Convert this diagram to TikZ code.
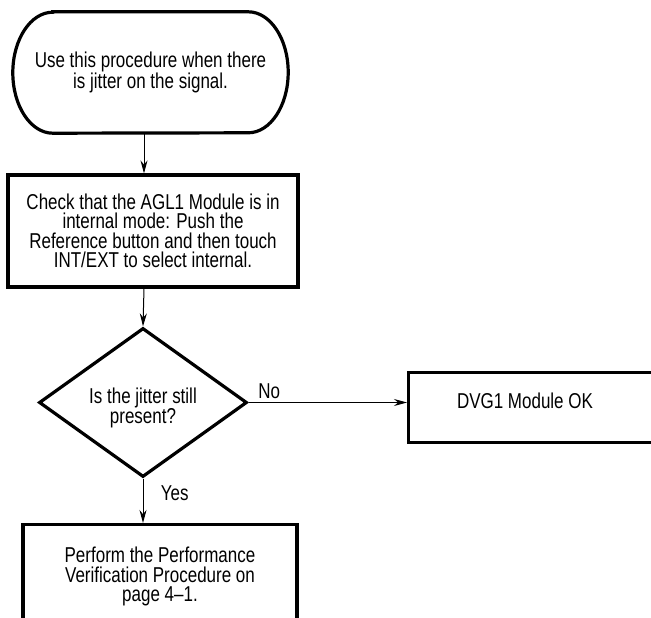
\documentclass[tikz,border=0pt]{standalone}
\usepackage{fontspec}
\setmainfont{Liberation Sans}[FakeStretch=0.79]
\usetikzlibrary{shapes.geometric,arrows.meta}

\begin{document}
\begin{tikzpicture}[x=1pt,y=-1pt,
	every node/.style={font=\fontsize{21.5}{19.5}\selectfont, align=center},
	box/.style={draw, line width=3.2pt, inner sep=0pt},
	flow/.style={-{Stealth[length=13pt,width=7pt]}, line width=1pt}]
	\useasboundingbox (0,0) rectangle (651,618);
	\clip (0,0) rectangle (651,618);
	\node at (150.5,72.5) [minimum width=275pt, minimum height=121pt, inner sep=0pt] (start) {Use this procedure when there\\is jitter on the signal.};
	\draw [line width=3.2pt] ([xshift=40pt] start.north west) -- ([xshift=-40pt] start.north east)
		arc[start angle=90, end angle=-90, x radius=40pt, y radius=60.5pt]
		-- ([xshift=40pt] start.south west)
		arc[start angle=270, end angle=90, x radius=40pt, y radius=60.5pt] -- cycle;
	\node at (153,231) [box, minimum width=290pt, minimum height=112pt] (check) {Check that the AGL1 Module is in\\internal mode: Push the\\Reference button and then touch\\INT/EXT to select internal.};
	\node at (143,402.5) [box, diamond, aspect=1.4, minimum width=208pt, minimum height=149pt] (jitter) {};
	\node at (143,408) (jittertext) {Is the jitter still\\present?};
	\node at (407,371) [box, anchor=north west, minimum width=290pt, minimum height=70pt] (dvg) {};
	\node at (525,401) (dvgtext) {DVG1 Module OK};
	\node at (160,523) [box, anchor=north, minimum width=274pt, minimum height=104pt] (perform) {Perform the Performance\\Verification Procedure on\\page 4--1.};
	%\draw [flow] (start) -- (check);
	\draw [flow] ([xshift=-6.5pt] start.south) -- ([xshift=-6.5pt] start.south |- check.north);
	\draw [flow] ([xshift=-9pt] check.south) -- (jitter.north);
	\draw [flow] (jitter.east) -- (jitter.east -| dvg.west) node[pos=0.13, above] {No};
	\draw [flow] (jitter.south) -- (jitter.south |- perform.north) node[pos=0.32, right=14pt] {Yes};
\end{tikzpicture}
\end{document}
